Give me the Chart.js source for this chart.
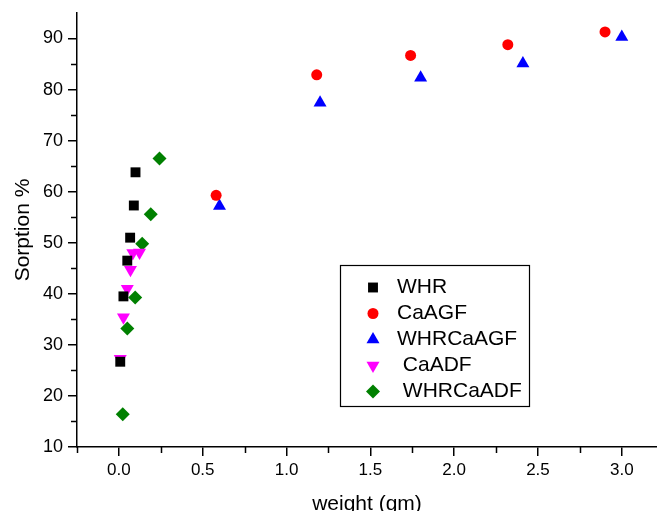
<!DOCTYPE html>
<html>
<head>
<meta charset="utf-8">
<script src="https://cdn.jsdelivr.net/npm/chart.js@4.4.1/dist/chart.umd.min.js"></script>
<style>
  html, body { margin: 0; padding: 0; background: #fff; }
  #wrap { width: 657px; height: 511px; position: relative; }
</style>
</head>
<body>
<div id="wrap"><canvas id="sorptionChart"></canvas></div>
<script>
// data
const seriesNames = ["WHR", "CaAGF", "WHRCaAGF", " CaADF", " WHRCaADF"];

const whrX = [0.008, 0.027, 0.050, 0.067, 0.089, 0.099];
const whrY = [26.7, 39.5, 46.5, 51.0, 57.3, 63.8];

const caagfX = [0.58, 1.18, 1.74, 2.32, 2.90];
const caagfY = [59.3, 82.9, 86.7, 88.8, 91.3];

const whrCaagfX = [0.60, 1.20, 1.80, 2.41, 3.00];
const whrCaagfY = [57.2, 77.4, 82.3, 85.1, 90.3];

const caadfX = [0.008, 0.027, 0.050, 0.069, 0.083, 0.123];
const caadfY = [27.3, 35.4, 41.0, 44.7, 48.0, 48.1];

const whrCaadfX = [0.023, 0.050, 0.097, 0.139, 0.190, 0.242];
const whrCaadfY = [16.4, 33.2, 39.3, 49.8, 55.6, 66.5];

const xMajorTicks = [0, 0.5, 1.0, 1.5, 2.0, 2.5, 3.0];
const xMinorTicks = [-0.25, 0.25, 0.75, 1.25, 1.75, 2.25, 2.75];
const yMajorTicks = [10, 20, 30, 40, 50, 60, 70, 80, 90];
const yMinorTicks = [15, 25, 35, 45, 55, 65, 75, 85];

function toPoints(xs, ys) {
  return xs.map((x, i) => ({ x: x, y: ys[i] }));
}

const FONT = "'Liberation Sans', Arial, sans-serif";

// minor tick marks (shorter than the major ones)
const minorTicks = {
  id: "minorTicks",
  afterDraw(chart) {
    const ctx = chart.ctx;
    const xs = chart.scales.x;
    const ys = chart.scales.y;
    const area = chart.chartArea;
    ctx.save();
    ctx.strokeStyle = "#000";
    ctx.lineWidth = 1.5;
    ctx.beginPath();
    xMinorTicks.forEach(v => {
      const px = Math.round(xs.getPixelForValue(v)) + 0.5;
      ctx.moveTo(px, area.bottom);
      ctx.lineTo(px, area.bottom + 6);
    });
    yMinorTicks.forEach(v => {
      const py = Math.round(ys.getPixelForValue(v)) + 0.5;
      ctx.moveTo(area.left, py);
      ctx.lineTo(area.left - 6, py);
    });
    ctx.stroke();
    ctx.restore();
  }
};

// boxed legend inside the plot, like the original
const boxLegend = {
  id: "boxLegend",
  afterDraw(chart) {
    const ctx = chart.ctx;
    const left = 340, top = 265, w = 189, h = 141;
    ctx.save();
    ctx.strokeStyle = "#000";
    ctx.lineWidth = 1.2;
    ctx.strokeRect(left + 0.5, top + 0.5, w, h);
    ctx.font = "21px " + FONT;
    ctx.textBaseline = "middle";
    ctx.textAlign = "left";
    chart.data.datasets.forEach((ds, i) => {
      const cy = top + 22.5 + i * 26;
      ctx.fillStyle = ds.backgroundColor;
      ctx.strokeStyle = ds.backgroundColor;
      Chart.helpers.drawPoint(ctx, {
        pointStyle: ds.pointStyle,
        rotation: ds.rotation || 0,
        radius: ds.pointRadius,
        borderWidth: 0
      }, 373, cy);
      ctx.fillStyle = "#000";
      ctx.fillText(ds.label, 397, cy);
    });
    ctx.restore();
  }
};

const datasets = [
  { label: seriesNames[0], data: toPoints(whrX, whrY), backgroundColor: "#000000", pointStyle: "rect", pointRadius: 7 },
  { label: seriesNames[1], data: toPoints(caagfX, caagfY), backgroundColor: "#ff0000", pointStyle: "circle", pointRadius: 5.5 },
  { label: seriesNames[2], data: toPoints(whrCaagfX, whrCaagfY), backgroundColor: "#0000ff", pointStyle: "triangle", pointRadius: 7.5 },
  { label: seriesNames[3], data: toPoints(caadfX, caadfY), backgroundColor: "#ff00ff", pointStyle: "triangle", rotation: 180, pointRadius: 7.5 },
  { label: seriesNames[4], data: toPoints(whrCaadfX, whrCaadfY), backgroundColor: "#008000", pointStyle: "rectRot", pointRadius: 7 }
];
datasets.forEach(ds => {
  ds.borderWidth = 0;
  ds.borderColor = ds.backgroundColor;
  ds.pointHoverRadius = ds.pointRadius;
});

new Chart(document.getElementById("sorptionChart"), {
  type: "scatter",
  data: { datasets: datasets },
  options: {
    responsive: true,
    maintainAspectRatio: false,
    animation: false,
    layout: { autoPadding: false, padding: { top: 13, right: 0, bottom: 0, left: 0 } },
    plugins: {
      legend: { display: false },
      tooltip: { enabled: false }
    },
    scales: {
      x: {
        type: "linear",
        min: -0.25,
        max: 3.21,
        afterBuildTicks: scale => { scale.ticks = xMajorTicks.map(v => ({ value: v })); },
        afterFit: scale => {
          scale.height = 64;
          scale.paddingLeft = 0;
          scale.paddingRight = 0;
        },
        ticks: {
          color: "#000",
          font: { family: FONT, size: 17 },
          padding: 4,
          maxRotation: 0,
          callback: v => Number(v).toFixed(1)
        },
        grid: { drawOnChartArea: false, drawTicks: true, tickLength: 9, color: "#000", lineWidth: 1.5 },
        border: { display: true, color: "#000", width: 1.5 },
        title: {
          display: true,
          text: "weight (gm)",
          color: "#000",
          font: { family: FONT, size: 21, lineHeight: 0.8 },
          padding: { top: 0, bottom: -2 }
        }
      },
      y: {
        type: "linear",
        min: 10,
        max: 95,
        afterBuildTicks: scale => { scale.ticks = yMajorTicks.map(v => ({ value: v })); },
        afterFit: scale => {
          scale.width = 77;
          scale.paddingTop = 0;
          scale.paddingBottom = 0;
        },
        ticks: {
          color: "#000",
          font: { family: FONT, size: 18 },
          padding: 5
        },
        grid: { drawOnChartArea: false, drawTicks: true, tickLength: 9, color: "#000", lineWidth: 1.5 },
        border: { display: true, color: "#000", width: 1.5 },
        title: {
          display: true,
          text: "Sorption %",
          color: "#000",
          font: { family: FONT, size: 21, lineHeight: 0.8 },
          padding: { top: 15, bottom: 0 }
        }
      }
    }
  },
  plugins: [minorTicks, boxLegend]
});
</script>
</body>
</html>
